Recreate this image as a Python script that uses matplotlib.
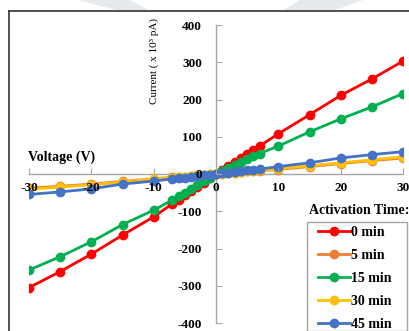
import matplotlib
matplotlib.use("Agg")
import matplotlib.pyplot as plt
from matplotlib.patches import Polygon, Rectangle
from matplotlib.lines import Line2D

# I-V sweep, current in x 10^3 pA
voltage = [-30, -25, -20, -15, -10, -7, -6, -5, -4, -3, -2, -1, 0,
           1, 2, 3, 4, 5, 6, 7, 10, 15, 20, 25, 30]

current_0min = [-305, -262, -215, -164, -115, -80, -69, -57, -46, -34, -23, -11, 0,
                11, 22, 33, 44, 55, 65, 75, 108, 159, 211, 255, 303]
current_5min = [-38, -33, -27, -20, -13, -9, -8, -7, -5, -4, -3, -1, 0,
                1, 3, 4, 5, 7, 8, 9, 12, 20, 28, 36, 43]
current_15min = [-258, -222, -182, -136, -97, -70, -60, -50, -40, -30, -20, -10, 0,
                 8, 16, 24, 32, 40, 47, 55, 75, 113, 148, 180, 216]
current_30min = [-41, -35, -29, -22, -14, -10, -9, -7, -6, -4, -3, -1, 0,
                 1, 3, 4, 6, 7, 8, 10, 14, 22, 30, 38, 46]
current_45min = [-55, -48, -40, -27, -19, -13, -11, -10, -8, -6, -4, -2, 0,
                 2, 4, 6, 8, 10, 11, 13, 20, 30, 43, 52, 60]

series = [
    ("0 min", current_0min, "#FF0000"),
    ("5 min", current_5min, "#ED7D31"),
    ("15 min", current_15min, "#00B050"),
    ("30 min", current_30min, "#FFC000"),
    ("45 min", current_45min, "#4472C4"),
]

x_ticks = [-30, -20, -10, 0, 10, 20, 30]
y_ticks = [-400, -300, -200, -100, 0, 100, 200, 300, 400]

plt.rcParams["font.family"] = ["Liberation Serif", "DejaVu Serif"]
plt.rcParams["axes.unicode_minus"] = False

W, H = 409, 331
fig = plt.figure(figsize=(W / 100, H / 100), dpi=100)

def fx(px):
    return px / W

def fy(py):
    return 1 - py / H

# faint watermark shapes at the top
fig.patches.append(Polygon([(fx(78), fy(0)), (fx(130), fy(0)), (fx(150), fy(11)), (fx(120), fy(11))],
                           closed=True, transform=fig.transFigure, facecolor="#e4eaee", edgecolor="none", zorder=0))
fig.patches.append(Polygon([(fx(300), fy(0)), (fx(363), fy(0)), (fx(332), fy(11)), (fx(282), fy(11))],
                           closed=True, transform=fig.transFigure, facecolor="#e4eaee", edgecolor="none", zorder=0))

# outer frame (cut by image edges)
fig.add_artist(Line2D([fx(9), fx(9)], [fy(11), 0], transform=fig.transFigure, color="#333333", lw=1.2))
fig.add_artist(Line2D([fx(9), 1], [fy(11), fy(11)], transform=fig.transFigure, color="#333333", lw=1.2))

ax = fig.add_axes([fx(29), fy(323), fx(403) - fx(29), fy(25) - fy(323)])
ax.patch.set_alpha(0)

for label, values, color in series:
    ax.plot(voltage, values, color=color, lw=2, marker="o", ms=6, label=label)

ax.set_xlim(-30, 30)
ax.set_ylim(-400, 400)
ax.set_xticks(x_ticks)
ax.set_yticks(y_ticks)
ax.set_axisbelow(False)  # tick labels sit on top of the curves

for side in ["top", "right"]:
    ax.spines[side].set_visible(False)
ax.spines["left"].set_position(("data", 0))
ax.spines["bottom"].set_position(("data", 0))
for side in ["left", "bottom"]:
    ax.spines[side].set_color("#a6a6a6")
    ax.spines[side].set_linewidth(1.0)
    ax.spines[side].set_zorder(0.5)

ax.tick_params(axis="x", direction="in", length=4, color="#a6a6a6", pad=6, labelsize=9.5)
ax.tick_params(axis="y", direction="in", length=4, color="#a6a6a6", pad=10, labelsize=9.5)
for t in ax.get_xticklabels() + ax.get_yticklabels():
    t.set_fontweight("bold")

fig.text(fx(154), fy(61), "Current ( x 10³ pA)", rotation=90, ha="center", va="center", fontsize=8)
fig.text(fx(28), fy(157), "Voltage (V)", ha="left", va="center", fontsize=10, fontweight="bold")
fig.text(fx(359), fy(210), "Activation Time:", ha="center", va="center", fontsize=10, fontweight="bold")

# legend box extends past the bottom edge
fig.patches.append(Rectangle((fx(307), 0), 1 - fx(307) - fx(2), fy(222), transform=fig.transFigure,
                             facecolor="white", edgecolor="#a6a6a6", lw=1.0, zorder=2))
leg = fig.legend(loc="upper left", bbox_to_anchor=(fx(318), fy(226)), bbox_transform=fig.transFigure,
                 frameon=False, borderaxespad=0, borderpad=0, handlelength=2.3, handletextpad=0.05,
                 labelspacing=0.72, prop={"size": 10, "weight": "bold"})
leg.set_zorder(3)

fig.savefig("out.png", dpi=100)
